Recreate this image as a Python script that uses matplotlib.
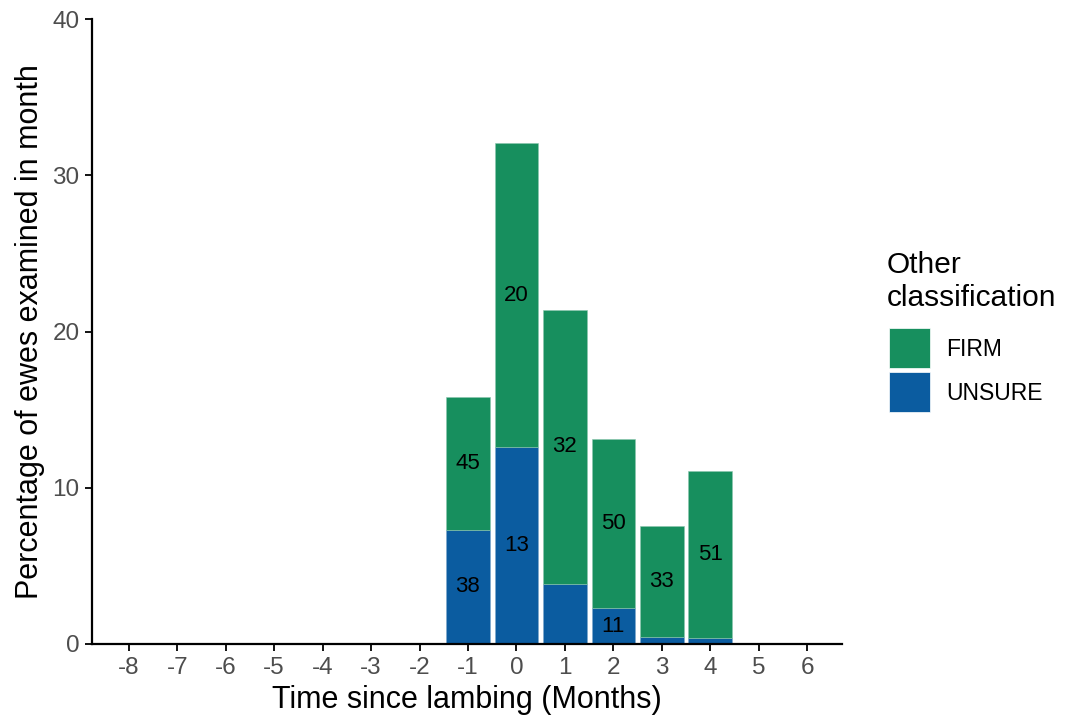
import matplotlib
matplotlib.use("Agg")
import matplotlib.pyplot as plt
from matplotlib.patches import Rectangle

plt.rcParams["font.family"] = ["Liberation Sans", "DejaVu Sans"]

# =========================
# DATA
# =========================

months = [-8, -7, -6, -5, -4, -3, -2, -1, 0, 1, 2, 3, 4, 5, 6]

unsure_pct = [0, 0, 0, 0, 0, 0, 0, 7.3, 12.6, 3.85, 2.3, 0.45, 0.4, 0, 0]
firm_pct = [0, 0, 0, 0, 0, 0, 0, 8.5, 19.45, 17.55, 10.8, 7.1, 10.7, 0, 0]

# ewe counts printed on the segments (None = not printed)
unsure_n = [None] * 7 + [38, 13, None, 11, None, None] + [None] * 2
firm_n = [None] * 7 + [45, 20, 32, 50, 33, 51] + [None] * 2

firm_col = "#178F5E"
unsure_col = "#0B5CA0"

W, H = 1067, 717
fig = plt.figure(figsize=(W / 100, H / 100), dpi=100)

ax = fig.add_axes([92 / W, (H - 644) / H, (842 - 92) / W, (644 - 19) / H])

ax.bar(months, unsure_pct, width=0.9, color=unsure_col,
       edgecolor="#7fa8cc", linewidth=0.4)
ax.bar(months, firm_pct, width=0.9, bottom=unsure_pct, color=firm_col,
       edgecolor="#8cc7ae", linewidth=0.4)

# labels in the middle of each segment
for m, u, f, un, fn in zip(months, unsure_pct, firm_pct, unsure_n, firm_n):
    if un is not None:
        ax.text(m, u / 2, str(un), ha="center", va="center",
                fontsize=16, color="black")
    if fn is not None:
        ax.text(m, u + f / 2, str(fn), ha="center", va="center",
                fontsize=16, color="black")

ax.set_xlim(-8.76, 6.72)
ax.set_ylim(0, 40)
ax.set_xticks(months)
ax.set_xticklabels([str(m) for m in months])
ax.set_yticks([0, 10, 20, 30, 40])

for side in ["top", "right"]:
    ax.spines[side].set_visible(False)
for side in ["left", "bottom"]:
    ax.spines[side].set_linewidth(1.6)
    ax.spines[side].set_color("black")

ax.tick_params(axis="both", length=5, width=1.3, color="black",
               labelsize=17.5, labelcolor="#4D4D4D", pad=4)

ax.set_xlabel("Time since lambing (Months)", fontsize=22, labelpad=5)
ax.set_ylabel("Percentage of ewes examined in month", fontsize=22, labelpad=5)

# =========================
# LEGEND
# =========================

fig.text(887 / W, 1 - 265 / H, "Other", fontsize=21.5, ha="left", va="center")
fig.text(887 / W, 1 - 298 / H, "classification", fontsize=21.5, ha="left", va="center")

keys = [(firm_col, "FIRM", 328), (unsure_col, "UNSURE", 372)]
for col, lab, top in keys:
    fig.patches.append(Rectangle((889 / W, 1 - (top + 40) / H), 41 / W, 40 / H,
                                 transform=fig.transFigure, facecolor=col,
                                 edgecolor="white", linewidth=0.5))
    fig.text(946 / W, 1 - (top + 21) / H, lab, fontsize=16.5, ha="left", va="center")

fig.savefig("out.png", dpi=100)
